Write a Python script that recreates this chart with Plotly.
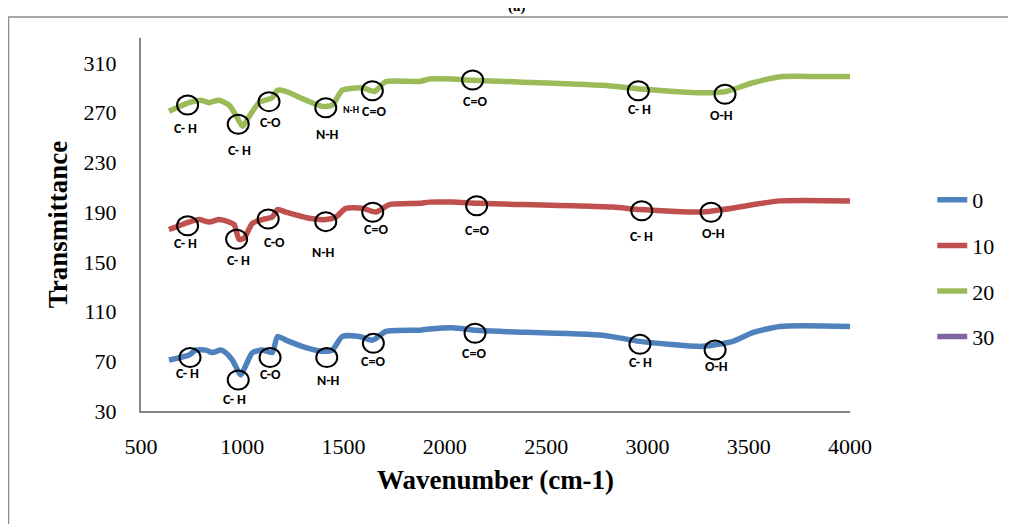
import plotly.graph_objects as go

# ---------------- data ----------------
wn_0 = [638, 737, 770, 820, 852, 894, 918, 951, 993, 1018, 1050, 1099, 1148, 1174, 1215, 1314, 1396,
        1444, 1494, 1578, 1644, 1709, 1874, 1924, 2037, 2154, 2284, 2779, 2962, 3273, 3421, 3520, 3654, 4000]
t_0 = [71, 75, 79, 79, 77, 79, 77, 71, 59, 67, 77, 79, 77, 90, 87, 81, 78,
       79, 90, 90, 87, 94, 95, 96, 97, 95, 94, 91, 86, 82, 86, 93, 98, 98]

wn_10 = [638, 737, 787, 836, 885, 935, 960, 984, 1009, 1050, 1099, 1148, 1174, 1215, 1330, 1413,
         1462, 1511, 1594, 1660, 1726, 1874, 1924, 2037, 2171, 2828, 2962, 3273, 3372, 3654, 4000]
t_10 = [176, 182, 184, 182, 184, 182, 180, 168, 169, 181, 184, 186, 192, 190, 185, 184,
        186, 193, 193, 190, 196, 197, 198, 198, 197, 194, 192, 190, 192, 199, 199]

wn_20 = [638, 737, 795, 836, 885, 935, 968, 1001, 1034, 1083, 1148, 1174, 1215, 1314, 1396, 1444,
         1494, 1594, 1652, 1709, 1874, 1924, 2037, 2137, 2302, 2779, 2962, 3273, 3389, 3520, 3669, 3852, 4000]
t_20 = [271, 278, 280, 278, 280, 276, 268, 259, 267, 278, 282, 288, 287, 280, 275, 276,
        288, 290, 287, 295, 295, 297, 297, 296, 295, 292, 289, 286, 287, 294, 299, 299, 299]

# series "30" has no visible points in the chart (legend entry only)
wn_30 = [None]
t_30 = [None]

series_names = ["0", "10", "20", "30"]
series_colors = ["#4F81BD", "#C0504D", "#9BBB59", "#8064A2"]

# peak markers (circles) and band labels
circle_x_0 = [742, 980, 1137, 1417, 1647, 2149, 2963, 3334]
circle_y_0 = [73, 55, 73, 73, 84.5, 92.5, 83.6, 79.1]
label_text_0 = ["C- H", "C- H", "C-O", "N-H", "C=O", "C=O", "C- H", "O-H"]
label_x_0 = [729, 964, 1137, 1425, 1647, 2144, 2967, 3342]
label_y_0 = [59.8, 39.4, 59, 54.9, 70.2, 76.4, 68.8, 65.6]

circle_x_10 = [730, 972, 1128, 1412, 1644, 2157, 2972, 3314]
circle_y_10 = [179, 168.1, 184.4, 182.3, 189.8, 195.1, 191.1, 189.8]
label_text_10 = ["C- H", "C- H", "C-O", "N-H", "C=O", "C=O", "C- H", "O-H"]
label_x_10 = [722, 980, 1161, 1400, 1660, 2157, 2972, 3325]
label_y_10 = [164.9, 151.4, 165.4, 157.3, 176.1, 174.8, 170.2, 172.9]

circle_x_20 = [730, 980, 1132, 1412, 1642, 2137, 2955, 3383]
circle_y_20 = [276.1, 260.6, 278.8, 273.9, 287.6, 296.2, 287.6, 284.7]
label_text_20 = ["C- H", "C- H", "C-O", "N-H", "C=O", "C=O", "C- H", "O-H"]
label_x_20 = [722, 985, 1137, 1422, 1652, 2149, 2963, 3367]
label_y_20 = [257.4, 239.9, 261.9, 252.0, 270.7, 278.8, 272.1, 267.5]
small_label_text = ["N-H"]
small_label_x = [1535]
small_label_y = [272.7]

x_ticks = [500, 1000, 1500, 2000, 2500, 3000, 3500, 4000]
y_ticks = [30, 70, 110, 150, 190, 230, 270, 310]

# ---------------- figure ----------------
fig = go.Figure()
for name, color, xs, ys in zip(series_names, series_colors,
                               [wn_0, wn_10, wn_20, wn_30], [t_0, t_10, t_20, t_30]):
    fig.add_trace(go.Scatter(x=xs, y=ys, name=name, mode="lines", legendgroup=name,
                             line=dict(color=color, width=5.5, shape="spline", smoothing=0.6)))

serif = "Liberation Serif, Times New Roman, serif"
lab_font = dict(family="Carlito, Lato, Liberation Sans, sans-serif", size=14, color="black")

shapes = []
annotations = []
for cx, cy, lt, lx, ly in [(circle_x_0, circle_y_0, label_text_0, label_x_0, label_y_0),
                           (circle_x_10, circle_y_10, label_text_10, label_x_10, label_y_10),
                           (circle_x_20, circle_y_20, label_text_20, label_x_20, label_y_20)]:
    for x, y in zip(cx, cy):
        shapes.append(dict(type="circle", xref="x", yref="y", xsizemode="pixel", ysizemode="pixel",
                           xanchor=x, yanchor=y, x0=-10.5, x1=10.5, y0=-9.5, y1=9.5,
                           line=dict(color="black", width=2)))
    for t, x, y in zip(lt, lx, ly):
        annotations.append(dict(x=x, y=y, xref="x", yref="y", text="<b>%s</b>" % t,
                                showarrow=False, font=lab_font))
for t, x, y in zip(small_label_text, small_label_x, small_label_y):
    annotations.append(dict(x=x, y=y, xref="x", yref="y", text="<b>%s</b>" % t,
                            showarrow=False, font=dict(lab_font, size=10)))

# outer chart border and panel tag
shapes.append(dict(type="rect", xref="paper", yref="paper", x0=-0.1869, x1=1.3, y0=-0.5, y1=1.0563,
                   line=dict(color="#8c8c8c", width=1.5), layer="below"))
annotations.append(dict(x=0.53, y=1.056, xref="paper", yref="paper", text="<b>(a)</b>",
                        showarrow=False, yanchor="bottom",
                        font=dict(family=serif, size=15, color="black")))

fig.update_layout(
    width=1008, height=516,
    margin=dict(l=133, r=166, t=30, b=113),
    paper_bgcolor="white", plot_bgcolor="white",
    font=dict(family=serif, color="black", size=22),
    shapes=shapes, annotations=annotations,
    showlegend=True,
    legend=dict(x=1.116, y=0.622, xanchor="left", yanchor="top",
                font=dict(family=serif, size=22, color="black"),
                tracegroupgap=14, bgcolor="rgba(0,0,0,0)"),
)
fig.update_xaxes(range=[500, 4000], tickvals=x_ticks, ticktext=[str(v) for v in x_ticks],
                 showgrid=False, zeroline=False, showline=True, linecolor="#868686", linewidth=2,
                 ticks="", ticklabelstandoff=15, automargin=False,
                 title=dict(text="<b>Wavenumber (cm-1)</b>", font=dict(family=serif, size=27), standoff=12))
fig.update_yaxes(range=[30, 330], tickvals=y_ticks, ticktext=[str(v) for v in y_ticks],
                 showgrid=False, zeroline=False, showline=True, linecolor="#868686", linewidth=2,
                 ticks="", ticklabelstandoff=18, automargin=False,
                 title=dict(text="<b>Transmittance</b>", font=dict(family=serif, size=27), standoff=8))

fig.write_html("out.html")
